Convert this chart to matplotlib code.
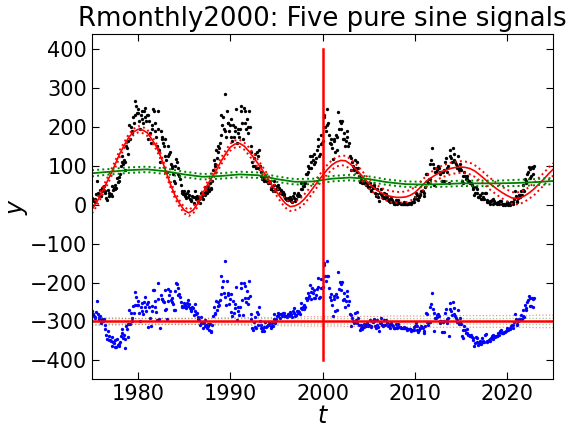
import numpy as np
import matplotlib
matplotlib.use("Agg")
import matplotlib.pyplot as plt

# monthly sunspot numbers, Jan 1975 .. Dec 2022 (one row per year)
sunspots = [
    18, 12, 10, 8, 14, 28, 60, 30, 28, 24, 38, 22,
    35, 42, 40, 48, 36, 30, 18, 12, 38, 30, 22, 28,
    28, 22, 48, 38, 42, 52, 40, 44, 70, 58, 62, 72,
    80, 100, 110, 125, 105, 115, 110, 90, 150, 145, 130, 165,
    205, 170, 200, 190, 185, 225, 210, 230, 266, 255, 235, 245,
    235, 215, 195, 230, 240, 220, 210, 240, 225, 250, 215, 230,
    170, 230, 215, 185, 160, 195, 205, 245, 240, 210, 190, 175,
    150, 242, 195, 140, 110, 190, 175, 170, 160, 150, 125, 170,
    115, 85, 125, 150, 130, 135, 105, 95, 100, 80, 60, 55,
    100, 118, 110, 80, 95, 75, 65, 50, 35, 30, 28, 35,
    28, 22, 18, 30, 35, 20, 25, 15, 12, 10, 22, 20,
    5, 35, 20, 15, 22, 8, 18, 14, 5, 30, 18, 22,
    15, 30, 25, 45, 35, 30, 40, 48, 35, 55, 40, 42,
    62, 90, 115, 100, 105, 140, 120, 135, 150, 145, 160, 180,
    230, 205, 225, 195, 190, 285, 175, 240, 210, 210, 190, 205,
    220, 175, 165, 205, 175, 190, 200, 245, 160, 185, 195, 175,
    195, 255, 240, 210, 170, 250, 210, 240, 195, 220, 185, 200,
    240, 200, 150, 135, 110, 100, 120, 130, 100, 95, 135, 125,
    95, 140, 100, 85, 75, 65, 70, 60, 65, 75, 60, 60,
    60, 55, 60, 55, 40, 40, 45, 35, 50, 60, 35, 40,
    48, 52, 40, 42, 30, 38, 35, 28, 32, 22, 28, 18,
    15, 12, 18, 12, 14, 20, 15, 10, 8, 22, 30, 18,
    10, 15, 25, 22, 30, 25, 22, 40, 55, 40, 48, 55,
    48, 55, 80, 78, 85, 100, 95, 125, 110, 95, 125, 115,
    105, 130, 110, 120, 140, 170, 150, 125, 130, 155, 180, 160,
    165, 225, 230, 200, 190, 205, 246, 210, 180, 160, 170, 155,
    145, 118, 170, 165, 135, 180, 140, 175, 238, 195, 215, 210,
    195, 215, 170, 185, 170, 150, 165, 190, 175, 150, 160, 125,
    120, 90, 110, 100, 95, 90, 115, 95, 85, 110, 95, 75,
    58, 62, 68, 55, 58, 55, 60, 55, 50, 55, 52, 45,
    45, 55, 38, 35, 48, 44, 50, 45, 30, 22, 28, 40,
    20, 10, 30, 40, 28, 22, 18, 20, 30, 18, 28, 22,
    20, 12, 10, 6, 15, 18, 12, 8, 4, 3, 3, 12,
    4, 3, 12, 4, 4, 4, 1, 1, 2, 3, 6, 2,
    2, 2, 1, 2, 4, 5, 5, 1, 6, 7, 7, 16,
    20, 30, 25, 15, 13, 20, 25, 28, 35, 35, 35, 22,
    30, 45, 80, 80, 60, 55, 65, 65, 105, 115, 145, 105,
    95, 50, 85, 85, 90, 95, 100, 95, 85, 80, 85, 60,
    85, 60, 90, 110, 120, 85, 95, 100, 55, 125, 140, 120,
    110, 146, 130, 115, 110, 105, 95, 100, 125, 90, 105, 95,
    90, 60, 55, 75, 85, 75, 65, 65, 75, 60, 60, 55,
    55, 55, 50, 40, 45, 25, 30, 45, 40, 30, 20, 20,
    25, 25, 15, 30, 20, 15, 15, 30, 30, 12, 8, 8,
    8, 9, 3, 9, 12, 15, 2, 9, 5, 5, 4, 3,
    8, 1, 10, 9, 10, 1, 1, 0, 1, 0, 1, 2,
    6, 0, 2, 5, 0, 6, 8, 8, 1, 15, 35, 22,
    10, 8, 18, 24, 21, 25, 35, 25, 50, 37, 35, 67,
    55, 60, 78, 85, 96, 70, 92, 75, 96, 95, 78, 100,
]

# residuals (data minus fit), same months
residuals = [
    28, 20, 14, 10, 12, 24, 52, 18, 12, 5, 15, -5,
    4, 7, 1, 6, -10, -20, -36, -46, -24, -37, -49, -47,
    -51, -62, -40, -54, -55, -49, -65, -66, -45, -61, -62, -57,
    -53, -37, -30, -19, -43, -36, -45, -68, -12, -20, -39, -7,
    30, -7, 21, 8, 1, 39, 22, 41, 76, 64, 43, 52,
    41, 21, 2, 37, 47, 28, 19, 50, 36, 62, 28, 44,
    -14, 49, 37, 10, -12, 26, 39, 82, 80, 53, 36, 24,
    3, 100, 58, 7, -18, 67, 57, 57, 53, 49, 29, 80,
    31, 6, 52, 83, 68, 79, 54, 49, 59, 44, 29, 29,
    78, 99, 95, 68, 87, 70, 63, 51, 39, 37, 38, 48,
    43, 38, 35, 48, 54, 40, 45, 34, 30, 26, 37, 34,
    17, 44, 26, 18, 22, 5, 12, 4, -9, 11, -5, -5,
    -16, -4, -13, 4, -10, -18, -12, -7, -23, -7, -25, -26,
    -10, 15, 37, 19, 21, 53, 29, 40, 51, 43, 54, 70,
    116, 88, 105, 72, 64, 156, 43, 105, 72, 69, 46, 58,
    71, 25, 14, 52, 21, 35, 44, 88, 3, 28, 37, 17,
    38, 99, 85, 56, 17, 98, 60, 92, 49, 77, 44, 61,
    103, 66, 19, 6, -16, -23, -1, 12, -15, -18, 25, 18,
    -10, 38, 2, -10, -17, -24, -17, -24, -15, -2, -14, -11,
    -8, -10, -2, -4, -16, -13, -5, -12, 6, 19, -3, 5,
    15, 22, 13, 18, 9, 20, 19, 14, 21, 13, 21, 14,
    13, 11, 18, 14, 17, 24, 20, 15, 12, 26, 34, 21,
    13, 17, 26, 21, 28, 23, 18, 34, 47, 31, 37, 42,
    33, 37, 60, 56, 60, 73, 66, 93, 75, 58, 85, 72,
    60, 82, 59, 67, 84, 111, 89, 61, 64, 86, 109, 86,
    89, 146, 149, 116, 104, 116, 155, 117, 85, 63, 71, 54,
    42, 14, 65, 58, 27, 71, 30, 64, 126, 83, 102, 96,
    81, 101, 56, 72, 57, 37, 53, 79, 65, 42, 53, 19,
    16, -12, 10, 1, -2, -5, 22, 4, -4, 23, 10, -8,
    -23, -17, -8, -19, -14, -14, -7, -10, -13, -5, -6, -11,
    -9, 3, -13, -14, 0, -2, 6, 2, -11, -18, -10, 3,
    -15, -24, -3, 8, -3, -8, -11, -8, 3, -8, 3, -2,
    -4, -11, -13, -16, -7, -3, -9, -13, -16, -17, -17, -7,
    -15, -16, -7, -15, -15, -15, -18, -18, -17, -17, -14, -18,
    -18, -19, -21, -20, -19, -19, -20, -25, -21, -21, -22, -14,
    -12, -4, -11, -22, -26, -21, -18, -17, -12, -14, -16, -31,
    -25, -12, 21, 20, -2, -9, -1, -2, 37, 45, 74, 33,
    21, -25, 9, 8, 12, 16, 19, 13, 2, -4, 0, -26,
    -1, -27, 2, 22, 31, -5, 5, 9, -37, 33, 47, 26,
    16, 51, 35, 20, 14, 9, -1, 4, 29, -7, 8, -2,
    -7, -37, -42, -21, -11, -21, -31, -30, -20, -34, -34, -38,
    -38, -36, -40, -49, -43, -62, -56, -40, -43, -52, -60, -59,
    -52, -51, -59, -42, -51, -54, -52, -35, -33, -50, -52, -50,
    -48, -46, -50, -43, -38, -34, -45, -37, -39, -38, -37, -37,
    -30, -36, -26, -25, -23, -31, -29, -29, -27, -27, -25, -23,
    -18, -23, -20, -16, -20, -13, -10, -10, -16, -2, 19, 6,
    -6, -9, 1, 7, 3, 7, 17, 5, 29, 15, 12, 43,
    30, 34, 51, 56, 66, 39, 59, 40, 60, 57, 38, 59,
]

# fitted model (sum of sines), every half year 1975.0 .. 2025.0
fit = [
    -12, 6, 29, 52, 77, 103, 131, 153, 174, 187,
    194, 192, 185, 168, 149, 121, 87, 53, 24, 3,
    -14, -21, -13, 4, 29, 50, 70, 89, 112, 131,
    148, 156, 158, 151, 138, 122, 106, 88, 70, 51,
    34, 17, 3, -5, -3, 3, 14, 28, 44, 60,
    75, 90, 102, 110, 114, 113, 105, 94, 82, 68,
    55, 45, 36, 29, 24, 21, 19, 19, 20, 24,
    31, 42, 54, 65, 73, 80, 86, 90, 94, 96,
    97, 96, 93, 87, 78, 68, 57, 48, 39, 31,
    24, 18, 16, 18, 24, 32, 42, 54, 66, 79,
    91,
]
fit_err = [
    10, 10, 10, 9, 9, 9, 9, 8, 8, 8,
    8, 8, 8, 8, 8, 8, 8, 8, 8, 8,
    8, 8, 8, 8, 8, 8, 9, 9, 9, 9,
    9, 9, 9, 9, 10, 10, 10, 10, 10, 10,
    10, 11, 11, 11, 11, 11, 12, 12, 12, 12,
    12, 12, 12, 12, 12, 13, 13, 13, 13, 13,
    13, 13, 13, 13, 14, 14, 14, 14, 14, 14,
    14, 14, 14, 14, 15, 15, 15, 15, 15, 15,
    15, 15, 15, 15, 15, 15, 15, 15, 15, 15,
    15, 15, 15, 15, 15, 15, 16, 16, 16, 16,
    16,
]

# long period component, every two years 1975 .. 2025
trend = [81, 85, 89, 91, 86, 78, 72, 74, 78, 76, 66, 59, 60,
         67, 70, 66, 58, 53, 52, 53, 55, 55, 55, 56, 58, 61]
trend_err = [8, 7, 7, 7, 7, 7, 7, 7, 7, 7, 7, 7, 7,
             7, 7, 7, 7, 7, 7, 7, 7, 7, 7, 8, 8, 8]

resid_offset = -300
t_ref = 2000

t_month = 1975 + (np.arange(len(sunspots)) + 0.5) / 12
t_fit = 1975 + 0.5 * np.arange(len(fit))
t_trend = 1975 + 2.0 * np.arange(len(trend))

fit = np.array(fit)
fit_err = np.array(fit_err)
trend = np.array(trend)
trend_err = np.array(trend_err)

fig = plt.figure(figsize=(5.74, 4.30), dpi=100)
ax = fig.add_axes([92 / 574, 1 - 379 / 430, (553 - 92) / 574, (379 - 34) / 430])

# data and residuals
ax.plot(t_month, sunspots, 'o', color='k', ms=2.4, mew=0)
ax.plot(t_month, np.array(residuals) + resid_offset, 'o', color='b', ms=2.4, mew=0)

# fit with error band
ax.plot(t_fit, fit, '-', color='r', lw=1.2)
ax.plot(t_fit, fit + fit_err, ':', color='r', lw=1.4)
ax.plot(t_fit, fit - fit_err, ':', color='r', lw=1.4)

# long period signal
ax.plot(t_trend, trend, '-', color='g', lw=1.3)
ax.plot(t_trend, trend + trend_err, ':', color='g', lw=1.4)
ax.plot(t_trend, trend - trend_err, ':', color='g', lw=1.4)

# residual zero line and its bands
ax.axhline(resid_offset, color='r', lw=1.8)
ax.plot(t_fit, resid_offset + fit_err, ':', color='r', lw=0.9, alpha=0.45)
ax.plot(t_fit, resid_offset - fit_err, ':', color='r', lw=0.9, alpha=0.45)
ax.plot(t_trend, resid_offset + trend_err, ':', color='g', lw=0.9, alpha=0.4)
ax.plot(t_trend, resid_offset - trend_err, ':', color='g', lw=0.9, alpha=0.4)

# reference epoch
ax.plot([t_ref, t_ref], [-400, 400], '-', color='r', lw=1.8)

ax.set_xlim(1975, 2025)
ax.set_ylim(-448, 439)
ax.set_xticks([1980, 1990, 2000, 2010, 2020])
ax.set_yticks(np.arange(-400, 401, 100))
ax.tick_params(direction='in', top=True, right=True, labelsize=15, length=5)
ax.set_xlabel('$t$', fontsize=17, labelpad=0)
ax.set_ylabel('$y$', fontsize=17, labelpad=0)
ax.set_title('Rmonthly2000: Five pure sine signals', fontsize=18.7)

fig.savefig('out.png', dpi=100)
